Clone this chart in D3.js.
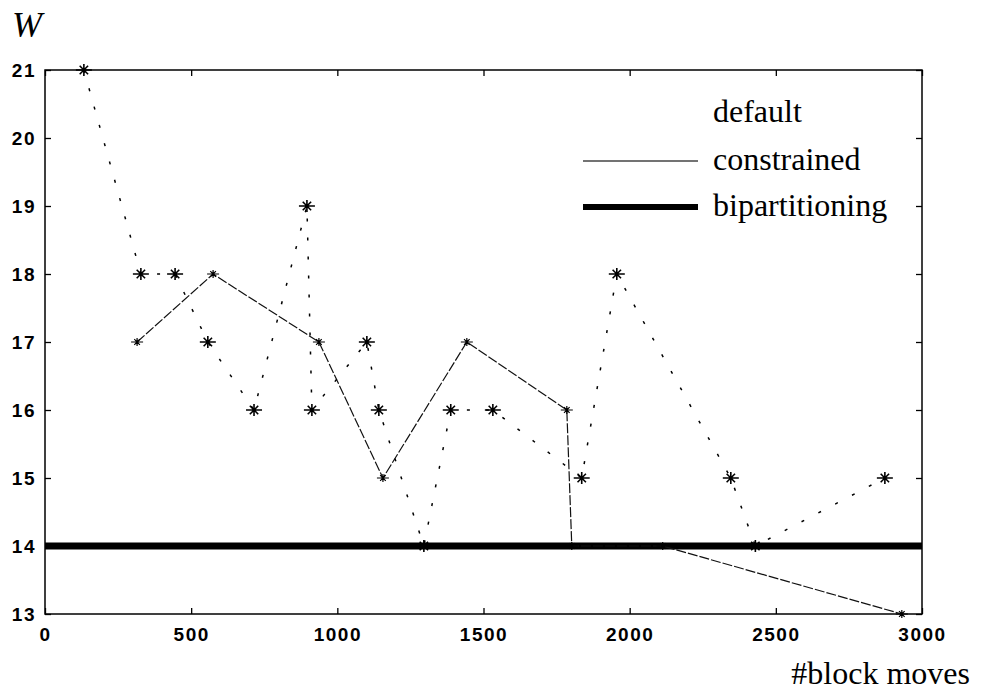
<!DOCTYPE html>
<html lang="en">
<head>
  <meta charset="UTF-8">
  <title>W vs block moves</title>
  <style>
    body { margin: 0; background: #fff; }
  </style>
</head>
<body>
  <svg id="mainsvg" width="982" height="695"></svg>
  <script src="https://cdn.jsdelivr.net/npm/d3@7/dist/d3.min.js"></script>
  <script>
    // default: dotted line with stars
    const defaultMoves = [133, 328, 445, 557, 715, 896, 913, 1101, 1142, 1296, 1388, 1532, 1836, 1956, 2346, 2430, 2873]
    const defaultW     = [21, 18, 18, 17, 16, 19, 16, 17, 16, 14, 16, 16, 15, 18, 15, 14, 15]
    // constrained: thin line
    const constrainedMoves = [315, 575, 937, 1156, 1443, 1785, 1802, 2113, 2931]
    const constrainedW     = [17, 18, 17, 15, 17, 16, 14, 14, 13]
    // bipartitioning: flat thick line
    const bipartMoves = [0, 3000]
    const bipartW     = [14, 14]

    const xTicks = [0, 500, 1000, 1500, 2000, 2500, 3000]
    const yTicks = [13, 14, 15, 16, 17, 18, 19, 20, 21]

    const svg = d3.select('#mainsvg')
    const margin = { top: 70, right: 60, bottom: 81, left: 45 }
    const width = +svg.attr('width')
    const height = +svg.attr('height')
    const innerWidth = width - margin.left - margin.right   // 877
    const innerHeight = height - margin.top - margin.bottom // 544

    const xScale = d3.scaleLinear().domain([0, 3000]).range([0, innerWidth])
    const yScale = d3.scaleLinear().domain([13, 21]).range([innerHeight, 0])

    const g = svg.append('g').attr('transform', `translate(${margin.left}, ${margin.top})`)

    // tick labels: heavy, wide sans like the scanned matlab figure
    const tickFont = sel => {
      sel.attr('font-family', '"Liberation Sans", Arial, sans-serif')
        .attr('font-size', 19)
        .attr('font-weight', 'bold')
      sel.selectAll('text').attr('fill', '#000').attr('letter-spacing', 1.5)
    }

    // axes, ticks pointing inwards
    g.append('g')
      .attr('transform', `translate(0, ${innerHeight})`)
      .call(d3.axisBottom(xScale).tickValues(xTicks).tickFormat(d3.format('d'))
        .tickSizeInner(-6).tickSizeOuter(0).tickPadding(14))
      .call(tickFont)
    g.append('g')
      .call(d3.axisLeft(yScale).tickValues(yTicks).tickFormat(d3.format('d'))
        .tickSizeInner(-6).tickSizeOuter(0).tickPadding(9))
      .call(tickFont)
    // top and right: tick marks only
    g.append('g')
      .call(d3.axisTop(xScale).tickValues(xTicks).tickSizeInner(-6).tickSizeOuter(0))
      .call(a => a.selectAll('text').remove())
    g.append('g')
      .attr('transform', `translate(${innerWidth}, 0)`)
      .call(d3.axisRight(yScale).tickValues(yTicks).tickSizeInner(-6).tickSizeOuter(0))
      .call(a => a.selectAll('text').remove())
    g.selectAll('.domain').remove()
    g.selectAll('.tick line').attr('stroke', '#000').attr('stroke-width', 1.3)

    g.append('rect')
      .attr('width', innerWidth)
      .attr('height', innerHeight)
      .attr('fill', 'none')
      .attr('stroke', '#000')
      .attr('stroke-width', 1.5)

    const line = d3.line().x(d => xScale(d[0])).y(d => yScale(d[1]))

    // bipartitioning
    g.append('path')
      .datum(d3.zip(bipartMoves, bipartW))
      .attr('d', line)
      .attr('fill', 'none')
      .attr('stroke', '#000')
      .attr('stroke-width', 7)

    // constrained
    const conData = d3.zip(constrainedMoves, constrainedW)
    g.append('path')
      .datum(conData)
      .attr('d', line)
      .attr('fill', 'none')
      .attr('stroke', '#111')
      .attr('stroke-width', 1.2)
      .attr('stroke-dasharray', '10,2')

    // default
    const defData = d3.zip(defaultMoves, defaultW)
    g.append('path')
      .datum(defData)
      .attr('d', line)
      .attr('fill', 'none')
      .attr('stroke', '#000')
      .attr('stroke-width', 1.5)
      .attr('stroke-dasharray', '3,16')

    // asterisk marker
    function star(r) {
      const d = r * 0.7
      return `M${-r - 2},0H${r + 2}M0,${-r}V${r}M${-d},${-d}L${d},${d}M${-d},${d}L${d},${-d}`
    }
    g.selectAll('.defstar')
      .data(defData)
      .join('path')
      .attr('class', 'defstar')
      .attr('transform', d => `translate(${xScale(d[0])}, ${yScale(d[1])})`)
      .attr('d', star(6))
      .attr('stroke', '#000')
      .attr('stroke-width', 1.6)
    g.selectAll('.constar')
      .data(conData)
      .join('path')
      .attr('class', 'constar')
      .attr('transform', d => `translate(${xScale(d[0])}, ${yScale(d[1])})`)
      .attr('d', star(4))
      .attr('stroke', '#000')
      .attr('stroke-width', 1.2)

    // legend
    const serif = '"Liberation Serif", "Times New Roman", serif'
    const legend = svg.append('g')
    const items = [
      { name: 'default', width: 0, y: 122 },
      { name: 'constrained', width: 1.3, y: 170 },
      { name: 'bipartitioning', width: 6, y: 216 }
    ]
    items.forEach(it => {
      legend.append('text')
        .text(it.name)
        .attr('x', 713)
        .attr('y', it.y)
        .attr('font-family', serif)
        .attr('font-size', 32)
      if (it.width > 0) {
        legend.append('line')
          .attr('x1', 583).attr('x2', 698)
          .attr('y1', it.y - 9).attr('y2', it.y - 9)
          .attr('stroke', it.width > 2 ? '#000' : '#444')
          .attr('stroke-width', it.width)
      }
    })

    // axis titles
    svg.append('text')
      .text('W')
      .attr('x', 12)
      .attr('y', 37)
      .attr('font-family', serif)
      .attr('font-style', 'italic')
      .attr('font-size', 36)
    svg.append('text')
      .text('#block moves')
      .attr('x', 970)
      .attr('y', 684)
      .attr('text-anchor', 'end')
      .attr('font-family', serif)
      .attr('font-size', 32)
  </script>
</body>
</html>
